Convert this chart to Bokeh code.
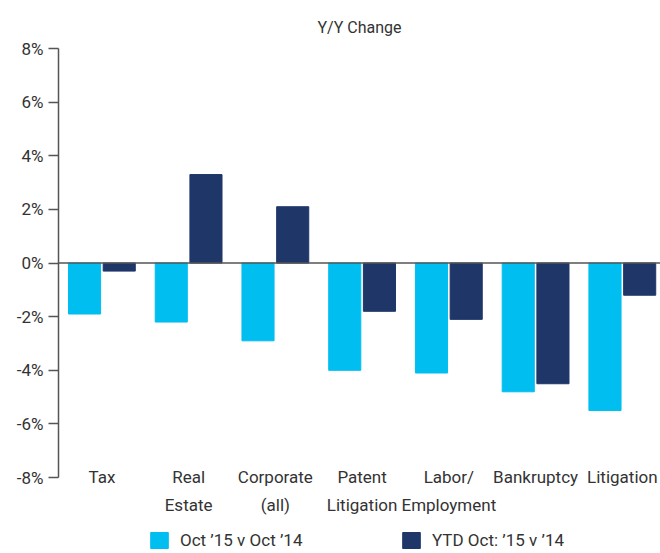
from bokeh.plotting import figure
from bokeh.models import (Range1d, FixedTicker, PrintfTickFormatter, Span, Legend,
                          LegendItem, Title, ColumnDataSource)
from bokeh.core.properties import value
from bokeh.transform import dodge
from bokeh.embed import file_html
from bokeh.resources import INLINE

categories = ["Tax", "Real\nEstate", "Corporate\n(all)", "Patent\nLitigation",
              "Labor/\nEmployment", "Bankruptcy", "Litigation"]
oct_vs_oct = [-1.9, -2.2, -2.9, -4.0, -4.1, -4.8, -5.5]
ytd_vs_ytd = [-0.3, 3.3, 2.1, -1.8, -2.1, -4.5, -1.2]
series_names = ["Oct \u201915 v Oct \u201914", "YTD Oct: \u201915 v \u201914"]
y_ticks = [-8, -6, -4, -2, 0, 2, 4, 6, 8]

FONT = "Roboto"
TEXT = "#333333"
AXIS = "#555555"
LIGHT = "#00BEF0"
DARK = "#1F3669"

idx = list(range(len(categories)))
src = ColumnDataSource(dict(x=idx, a=oct_vs_oct, b=ytd_vs_ytd,
                            label=categories, ly=[y_ticks[0]] * len(idx)))

p = figure(width=660, height=553, output_backend="svg", toolbar_location=None,
           x_range=Range1d(-0.5, 6.44), y_range=Range1d(-10.83, 8),
           x_axis_location=None,
           min_border_left=58, min_border_right=0, min_border_top=48,
           min_border_bottom=0)
p.outline_line_color = None
p.grid.visible = False

r1 = p.vbar(x=dodge("x", -0.2, range=p.x_range), top="a", bottom=0, width=0.37,
            source=src, color=LIGHT)
r2 = p.vbar(x=dodge("x", 0.2, range=p.x_range), top="b", bottom=0, width=0.37,
            source=src, color=DARK)

p.add_layout(Span(location=0, dimension="width", line_color=AXIS, line_width=1.5))

# category labels under the -8% end of the axis
p.text(x="x", y="ly", text="label", source=src, text_font=value(FONT),
       text_font_size="17px", text_color=TEXT, text_align="center",
       text_baseline="top", text_line_height=1.4, y_offset=-11)

# y axis
ya = p.yaxis[0]
ya.bounds = (y_ticks[0], y_ticks[-1])
ya.ticker = FixedTicker(ticks=y_ticks)
ya.formatter = PrintfTickFormatter(format="%d%%")
ya.axis_line_color = AXIS
ya.axis_line_width = 1.5
ya.major_tick_line_color = AXIS
ya.major_tick_line_width = 1.5
ya.major_tick_out = 10
ya.major_tick_in = 0
ya.minor_tick_line_color = None
ya.major_label_text_font = FONT
ya.major_label_text_font_size = "17px"
ya.major_label_text_color = TEXT
ya.major_label_standoff = 5

p.add_layout(Title(text="Y/Y Change", align="center", text_font=FONT,
                   text_font_size="16px", text_color=TEXT, text_font_style="normal",
                   standoff=24), "above")

for r, name, loc in [(r1, series_names[0], (90, 3)), (r2, series_names[1], (342, 3))]:
    lg = Legend(items=[LegendItem(label=name, renderers=[r])], location=loc,
                glyph_width=22, glyph_height=20, label_text_font=FONT,
                label_text_font_size="17px", label_text_color=TEXT,
                padding=0, margin=0, border_line_color=None,
                background_fill_alpha=0, label_standoff=10, label_height=20)
    p.add_layout(lg)

open("out.html", "w").write(file_html(p, INLINE))
